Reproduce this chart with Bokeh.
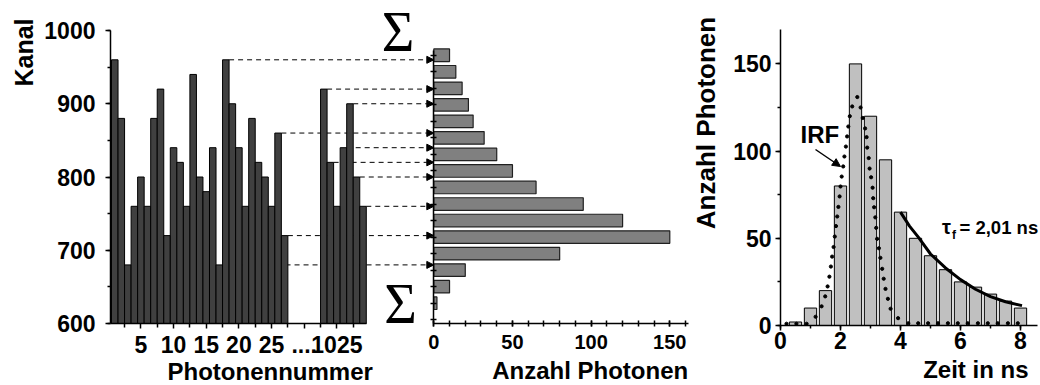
import math
from bokeh.plotting import figure
from bokeh.models import (Range1d, FixedTicker, SingleIntervalTicker, Arrow,
                          NormalHead, Label, ColumnDataSource, LinearAxis)
from bokeh.embed import file_html
from bokeh.resources import INLINE

# ---------------- data ----------------
slot_a = list(range(1, 28))
kanal_a = [960, 880, 680, 760, 800, 760, 880, 920, 720, 840, 820, 760, 940, 800,
           780, 840, 680, 960, 900, 840, 760, 880, 820, 800, 760, 860, 720]
slot_b = list(range(33, 40))
kanal_b = [920, 820, 760, 840, 900, 800, 760]
x_tick_pos = [5, 10, 15, 20, 25, 30, 35]
x_tick_labels = ["5", "10", "15", "20", "25", "....", "1025"]
x_minor_pos = [2.5, 7.5, 12.5, 17.5, 22.5, 27.5, 32.5, 37.5]

arrow_kanal = [960, 920, 900, 860, 840, 820, 800, 760, 720, 680]
arrow_from_slot = [18, 33, 37, 26, 36, 34, 38, 39, 27, 17]

time_ns = [0.5, 1.0, 1.5, 2.0, 2.5, 3.0, 3.5, 4.0, 4.5, 5.0, 5.5, 6.0, 6.5, 7.0, 7.5, 8.0]
counts = [2, 10, 20, 80, 150, 120, 95, 65, 50, 40, 32, 25, 22, 18, 14, 10]
hist_bin = list(range(1, 17))

irf_t = [0.2, 0.53, 0.87, 1.17, 1.37, 1.49, 1.57, 1.63, 1.68, 1.72, 1.77, 1.81, 1.85,
         1.89, 1.93, 1.97, 2.0, 2.04, 2.09, 2.13, 2.18, 2.22, 2.26, 2.31, 2.39, 2.56,
         2.67, 2.74, 2.82, 2.87, 2.89, 2.94, 2.97, 3.02, 3.07, 3.09, 3.12, 3.16, 3.19,
         3.22, 3.28, 3.33, 3.39, 3.44, 3.5, 3.58, 3.67, 3.92, 4.26, 4.59, 4.92, 5.25,
         5.58, 5.91, 6.24, 6.58, 6.91, 7.24, 7.58, 7.91]
irf_y = [1, 1, 1, 5, 11, 16.7, 22.4, 28, 33.8, 39.5, 45, 51, 57,
         62.5, 68, 74, 79.7, 85.4, 91.2, 96.9, 102.6, 108.4, 114.1, 120, 125.6, 131,
         125, 119, 113, 108, 102, 96, 90, 85, 79, 73, 67.8, 62, 56,
         49.7, 44.3, 38.8, 32.5, 26.8, 21, 15.3, 9.6, 4.2, 1.3, 1.3, 1.3, 1.3,
         1.3, 1.3, 1.3, 1.3, 1.3, 1.3, 1.3, 1.3]

fit_t = [4.0, 4.3, 4.6, 5.0, 5.5, 6.0, 6.5, 7.0, 7.5, 8.05]
fit_y = [65, 57, 50.5, 41, 33, 26.3, 20.8, 16.6, 13.6, 11.4]

# ---------------- geometry / style ----------------
FONT = "Liberation Sans"
SERIF = "Liberation Serif"
W, H = 1040, 385
SHIFT = 0.34   # baseline correction (em) for labels

PX_SLOT, SLOT0, SLOT0_PX = 6.533, 0.347, 110.0       # left x
PX_KANAL, KANAL0_PY = 0.7325, 323.0                   # left y (600 at py)
PX_CNT, CNT0_PX = 1.5733, 433.3                       # middle x
PX_BIN, BIN1_PY = 16.53, 302.7                        # middle y (bin 1 at py)
PX_NS, NS0_PX = 30.0, 780.0                           # right x
PX_PH, PH0_PY = 1.744, 325.0                          # right y


def sx(px):
    return SLOT0 + (px - SLOT0_PX) / PX_SLOT


def sy(py):
    return 600 + (KANAL0_PY - py) / PX_KANAL


def cx(px):
    return (px - CNT0_PX) / PX_CNT


def by(py):
    return 1 + (BIN1_PY - py) / PX_BIN


def nx(px):
    return (px - NS0_PX) / PX_NS


def py_(py):
    return (PH0_PY - py) / PX_PH


CONV = {"default": (sx, sy), "cnt": (cx, by), "ns": (nx, py_)}
YNAME = {"default": "default", "cnt": "bin", "ns": "ph"}

p = figure(width=W, height=H,
           x_range=Range1d(sx(0), sx(W)), y_range=Range1d(sy(H), sy(0)),
           x_axis_location=None, y_axis_location=None,
           output_backend="svg", toolbar_location=None,
           min_border_left=0, min_border_right=0,
           min_border_top=0, min_border_bottom=0)
p.extra_x_ranges = {"cnt": Range1d(cx(0), cx(W)), "ns": Range1d(nx(0), nx(W))}
p.extra_y_ranges = {"bin": Range1d(by(H), by(0)), "ph": Range1d(py_(H), py_(0))}
p.outline_line_color = None
p.xgrid.visible = False
p.ygrid.visible = False
p.background_fill_color = "white"
p.border_fill_color = "white"


def style_axis(ax, size, tick_out, minor_out, standoff, tick_in=0, minor_in=0):
    ax.axis_line_width = 1.5
    ax.axis_line_color = "black"
    ax.major_tick_line_width = 1.5
    ax.minor_tick_line_width = 1.5
    ax.major_tick_line_color = "black"
    ax.minor_tick_line_color = "black"
    ax.major_tick_out = tick_out
    ax.major_tick_in = tick_in
    ax.minor_tick_out = minor_out
    ax.minor_tick_in = minor_in
    ax.major_label_text_font = FONT
    ax.major_label_text_font_style = "bold"
    ax.major_label_text_font_size = size
    ax.major_label_text_color = "black"
    ax.major_label_standoff = standoff


def label(text, px, py, size, panel="default", align="left", vertical=False,
          font=FONT, style="bold"):
    """Place a text with its baseline anchor at pixel (px, py)."""
    d = SHIFT * size
    if vertical:
        px -= d
    else:
        py -= d
    fx, fy = CONV[panel]
    p.add_layout(Label(x=fx(px), y=fy(py), x_range_name=panel, y_range_name=YNAME[panel],
                       text=text, angle=math.pi / 2 if vertical else 0.0,
                       text_align=align, text_baseline="alphabetic",
                       text_font=font, text_font_style=style,
                       text_font_size=f"{size}px", text_color="black"))


# ---------------- left panel ----------------
arr_src = ColumnDataSource(dict(xs=[s + 0.5 for s in arrow_from_slot], ys=arrow_kanal))
p.add_layout(Arrow(end=NormalHead(size=7, fill_color="black", line_color="black"),
                   x_start="xs", y_start="ys", x_end=sx(CNT0_PX), y_end="ys",
                   line_dash="5 4", line_width=1, line_color="black",
                   source=arr_src, level="underlay"))

p.vbar(x=slot_a, top=kanal_a, bottom=600, width=1.0,
       fill_color="#404040", line_color="black", line_width=1)
p.vbar(x=slot_b, top=kanal_b, bottom=600, width=1.0,
       fill_color="#404040", line_color="black", line_width=1)

xa = LinearAxis(fixed_location=600)
xa.ticker = FixedTicker(ticks=x_tick_pos, minor_ticks=x_minor_pos)
xa.major_label_overrides = {t: l for t, l in zip(x_tick_pos, x_tick_labels)}
xa.bounds = (SLOT0, 39.6)
style_axis(xa, "23px", 5, 4, 7)
p.add_layout(xa, "below")

ya = LinearAxis(fixed_location=SLOT0)
ya.ticker = SingleIntervalTicker(interval=100, num_minor_ticks=2)
ya.bounds = (600, 1000)
style_axis(ya, "23px", 5, 3, 10)
p.add_layout(ya, "left")

label("Kanal", 32, 18, 25, align="right", vertical=True)
label("Photonennummer", 167, 379, 24)
label("Σ", 397.5, 51, 56, align="center", font=SERIF, style="normal")
label("Σ", 400, 323, 56, align="center", font=SERIF, style="normal")

# ---------------- middle panel ----------------
p.hbar(y=hist_bin, right=counts, left=0, height=0.76,
       x_range_name="cnt", y_range_name="bin",
       fill_color="#808080", line_color="#202020", line_width=1.2)

xb = LinearAxis(x_range_name="cnt", y_range_name="bin", fixed_location=by(KANAL0_PY))
xb.ticker = SingleIntervalTicker(interval=50, num_minor_ticks=5)
xb.bounds = (0, 162)
style_axis(xb, "20px", 3, 3, 8, tick_in=3, minor_in=3)
p.add_layout(xb, "below")

yb = LinearAxis(x_range_name="cnt", y_range_name="bin", fixed_location=0)
yb.ticker = FixedTicker(ticks=[], minor_ticks=list(range(0, 17)))
yb.bounds = (by(KANAL0_PY), by(50))
style_axis(yb, "20px", 0, 3, 0, tick_in=0, minor_in=3)
p.add_layout(yb, "left")

label("Anzahl Photonen", 491.7, 378.5, 24, panel="cnt")

# ---------------- right panel ----------------
p.vbar(x=time_ns, top=counts, width=0.41, x_range_name="ns", y_range_name="ph",
       fill_color="#c0c0c0", line_color="black", line_width=1)
p.scatter(irf_t, irf_y, size=3.2, color="black", x_range_name="ns", y_range_name="ph")
p.line(fit_t, fit_y, line_width=3, color="black", x_range_name="ns", y_range_name="ph")

xc = LinearAxis(x_range_name="ns", y_range_name="ph", fixed_location=0)
xc.ticker = SingleIntervalTicker(interval=2, num_minor_ticks=2)
xc.bounds = (0, 8.56)
style_axis(xc, "23px", 5, 3, 1)
p.add_layout(xc, "below")

yc = LinearAxis(x_range_name="ns", y_range_name="ph", fixed_location=0)
yc.ticker = SingleIntervalTicker(interval=50, num_minor_ticks=2)
yc.bounds = (0, 170)
style_axis(yc, "23px", 5, 3, 4)
p.add_layout(yc, "left")

label("Anzahl Photonen", 714, 122.5, 26, panel="ns", align="center", vertical=True)
label("Zeit in ns", 1028, 377.5, 24, panel="ns", align="right")
label("IRF", 800, 141.7, 24, panel="ns")
p.add_layout(Arrow(end=NormalHead(size=8, fill_color="black", line_color="black"),
                   x_start=nx(815), y_start=py_(149), x_end=nx(840), y_end=py_(166),
                   x_range_name="ns", y_range_name="ph",
                   line_width=1.5, line_color="black"))
label("τ", 941.5, 233, 20, panel="ns")
label("f", 951.5, 238.5, 12, panel="ns")
label("= 2,01 ns", 959, 233, 18.5, panel="ns")

open("out.html", "w").write(file_html(p, INLINE))
